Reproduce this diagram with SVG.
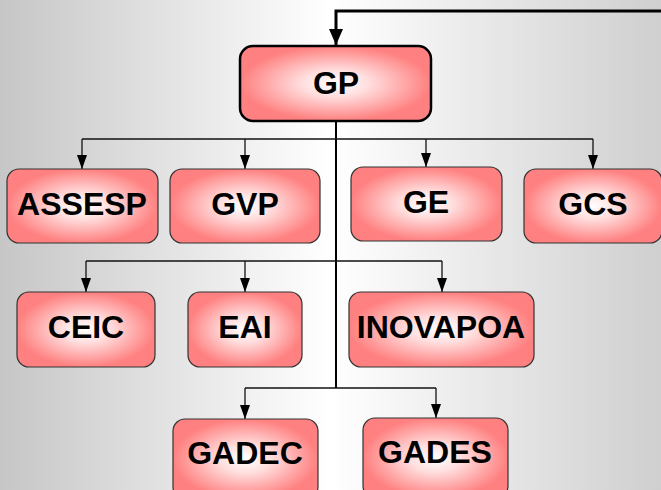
<svg xmlns="http://www.w3.org/2000/svg" width="661" height="490" viewBox="0 0 661 490">
<defs>
<linearGradient id="bg" x1="0" y1="0" x2="1" y2="0">
<stop offset="0" stop-color="#c6c6c6"/>
<stop offset="0.5" stop-color="#ffffff"/>
<stop offset="1" stop-color="#cfcfcf"/>
</linearGradient>
<radialGradient id="nf" cx="0.5" cy="0.5" r="0.5">
<stop offset="0" stop-color="#ffffff"/>
<stop offset="0.35" stop-color="#ffdede"/>
<stop offset="1" stop-color="#ff8080"/>
</radialGradient>
<marker id="ah" viewBox="0 0 14 10" refX="14" refY="5" markerWidth="14" markerHeight="10" markerUnits="userSpaceOnUse" orient="auto">
<path d="M0,0 L14,5 L0,10 Z" fill="#000"/>
</marker>
<marker id="ahb" viewBox="0 0 16 14" refX="16" refY="7" markerWidth="16" markerHeight="14" markerUnits="userSpaceOnUse" orient="auto">
<path d="M0,0 L16,7 L0,14 Z" fill="#000"/>
</marker>
</defs>
<style>
.n{fill:url(#nf);stroke:#333;stroke-width:1.2}
.gp{fill:url(#nf);stroke:#000;stroke-width:2.5}
.t{font-family:"Liberation Sans",Arial,sans-serif;font-weight:bold;font-size:32px;fill:#000;text-anchor:middle}
.c{fill:none;stroke:#111;stroke-width:1.3}
.cd{fill:none;stroke:#111;stroke-width:1.3;marker-end:url(#ah)}
</style>
<rect x="0" y="0" width="661" height="490" fill="url(#bg)"/>
<g id="connectors">
<path d="M661,11 H336 V45" fill="none" stroke="#000" stroke-width="3" marker-end="url(#ahb)"/>
<path d="M336,121 V388" fill="none" stroke="#000" stroke-width="2"/>
<path class="c" d="M82,139 H593"/>
<path class="cd" d="M82,139 V169"/>
<path class="cd" d="M245,139 V169"/>
<path class="cd" d="M426,139 V167"/>
<path class="cd" d="M593,139 V169"/>
<path class="c" d="M86,261 H442"/>
<path class="cd" d="M86,261 V292"/>
<path class="cd" d="M245,261 V292"/>
<path class="cd" d="M442,261 V292"/>
<path class="c" d="M245,388 H436"/>
<path class="cd" d="M245,388 V419"/>
<path class="cd" d="M436,388 V418"/>
</g>
<g id="GP"><rect class="gp" x="240" y="46" width="191" height="75" rx="13"/><text class="t" x="336" y="94">GP</text></g>
<g id="ASSESP"><rect class="n" x="7" y="169" width="151" height="74" rx="12"/><text class="t" x="82" y="215">ASSESP</text></g>
<g id="GVP"><rect class="n" x="170" y="169" width="150" height="74" rx="12"/><text class="t" x="245" y="215">GVP</text></g>
<g id="GE"><rect class="n" x="351" y="167" width="151" height="74" rx="12"/><text class="t" x="426" y="213">GE</text></g>
<g id="GCS"><rect class="n" x="524" y="169" width="138" height="74" rx="12"/><text class="t" x="593" y="215">GCS</text></g>
<g id="CEIC"><rect class="n" x="17" y="292" width="138" height="75" rx="12"/><text class="t" x="86" y="338">CEIC</text></g>
<g id="EAI"><rect class="n" x="188" y="292" width="114" height="75" rx="12"/><text class="t" x="245" y="338">EAI</text></g>
<g id="INOVAPOA"><rect class="n" x="349" y="292" width="185" height="75" rx="12"/><text class="t" x="441" y="338">INOVAPOA</text></g>
<g id="GADEC"><rect class="n" x="173" y="419" width="145" height="80" rx="12"/><text class="t" x="245" y="464">GADEC</text></g>
<g id="GADES"><rect class="n" x="363" y="418" width="145" height="80" rx="12"/><text class="t" x="435" y="463">GADES</text></g>
</svg>
